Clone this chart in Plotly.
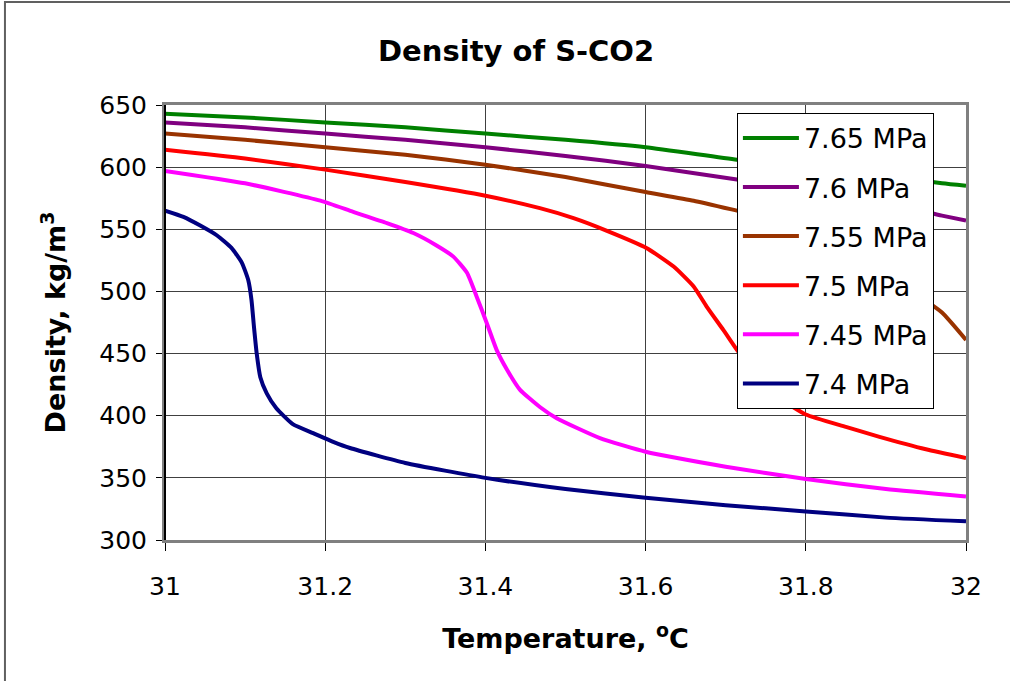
import plotly.graph_objects as go

# ---- data ----
t_765 = [31.0, 31.1, 31.2, 31.3, 31.4, 31.5, 31.6, 31.714, 31.8, 31.9, 31.97, 32.0]
d_765 = [643, 640, 636, 632, 627, 622, 616, 606, 600, 593, 587, 585]

t_760 = [31.0, 31.1, 31.2, 31.3, 31.4, 31.5, 31.6, 31.714, 31.8, 31.9, 31.97, 32.0]
d_760 = [636, 632, 627, 622, 616, 609, 601, 590, 582, 571, 561, 557]

t_755 = [31.0, 31.1, 31.2, 31.3, 31.4, 31.5, 31.6, 31.66, 31.714, 31.76, 31.8, 31.85,
         31.9, 31.94, 31.97, 32.0]
d_755 = [627, 622, 616, 610, 602, 592, 580, 573, 565, 558, 550, 538,
         518, 497, 483, 461]

t_750 = [31.0, 31.1, 31.2, 31.3, 31.4, 31.468, 31.51, 31.551, 31.601, 31.635, 31.66, 31.676,
         31.697, 31.714, 31.73, 31.75, 31.77, 31.8, 31.85, 31.892, 31.95, 32.0]
d_750 = [614, 607, 598, 588, 577, 567, 559, 549, 535, 520, 504, 488,
         469, 453, 440, 425, 413, 401, 391, 383, 373, 366]

t_745 = [31.0, 31.1, 31.194, 31.235, 31.277, 31.31, 31.339, 31.36, 31.377, 31.389, 31.402,
         31.414, 31.427, 31.443, 31.468, 31.489, 31.543, 31.6, 31.7, 31.8, 31.9, 32.0]
d_745 = [597, 587, 573, 564, 555, 547, 537, 528, 515, 496, 474,
         453, 437, 421, 407, 398, 382, 371, 359, 349, 341, 335]

t_740 = [31.0, 31.023, 31.044, 31.065, 31.083, 31.096, 31.104, 31.108, 31.111, 31.1145, 31.119,
         31.127, 31.139, 31.16, 31.185, 31.21, 31.231, 31.3, 31.4, 31.5, 31.6, 31.7, 31.8, 31.9, 32.0]
d_740 = [565, 560, 553, 545, 535, 523, 509, 493, 472, 450, 431,
         418, 406, 393, 386, 379, 374, 362, 350, 341, 334, 328, 323, 318, 315]

series_names = ["7.65 MPa", "7.6 MPa", "7.55 MPa", "7.5 MPa", "7.45 MPa", "7.4 MPa"]
series_colors = ["#008000", "#800080", "#993300", "#FF0000", "#FF00FF", "#000080"]
series_x = [t_765, t_760, t_755, t_750, t_745, t_740]
series_y = [d_765, d_760, d_755, d_750, d_745, d_740]

x_ticks = [31, 31.2, 31.4, 31.6, 31.8, 32]
x_tick_labels = ["31", "31.2", "31.4", "31.6", "31.8", "32"]
y_ticks = [300, 350, 400, 450, 500, 550, 600, 650]

FONT = "DejaVu Sans"

fig = go.Figure()
for i, (name, col, xs, ys) in enumerate(zip(series_names, series_colors, series_x, series_y)):
    fig.add_trace(go.Scatter(
        x=xs, y=ys, name=name, mode="lines",
        line=dict(color=col, width=4, shape="spline", smoothing=0.5),
        legendgroup=f"g{i}",
    ))

fig.update_layout(
    width=1010, height=681,
    margin=dict(l=165, r=44, t=105, b=141),
    paper_bgcolor="white", plot_bgcolor="white",
    font=dict(family=FONT, color="black", size=25),
    title=dict(text="<b>Density of S-CO2</b>", x=0.511, xanchor="center",
               y=0.926, yanchor="middle", font=dict(size=29, family=FONT)),
    showlegend=True,
    legend=dict(x=0.714, y=0.982, xanchor="left", yanchor="top",
                bgcolor="white", bordercolor="black", borderwidth=1,
                font=dict(size=27, family=FONT), tracegroupgap=11,
                itemwidth=56),
    xaxis=dict(range=[31, 32], tickvals=x_ticks, ticktext=x_tick_labels,
               showgrid=True, gridcolor="#404040", gridwidth=1,
               ticks="outside", ticklen=8, tickcolor="black",
               showline=True, linecolor="#808080", linewidth=3, mirror=True,
               zeroline=False, tickfont=dict(size=25), ticklabelstandoff=14,
               title=dict(text="<b>Temperature, <sup>o</sup>C</b>", font=dict(size=27), standoff=30)),
    yaxis=dict(range=[300, 650], tickvals=y_ticks,
               showgrid=True, gridcolor="#404040", gridwidth=1,
               ticks="outside", ticklen=6, tickcolor="black",
               showline=True, linecolor="#808080", linewidth=3, mirror=True,
               zeroline=False, tickfont=dict(size=25), ticklabelstandoff=4,
               title=dict(text="<b>Density, kg/m<sup>3</sup></b>", font=dict(size=27), standoff=26)),
)

# left axis line in black over the grey frame
fig.add_shape(type="line", xref="paper", yref="paper", x0=0, x1=0, y0=0, y1=1,
              line=dict(color="black", width=2), layer="above")
# outer chart frame
fig.add_shape(type="rect", xref="paper", yref="paper",
              x0=-0.1998, x1=1.2, y0=-0.4, y1=1.237,
              line=dict(color="#606060", width=2), layer="below")

fig.write_html("out.html")
